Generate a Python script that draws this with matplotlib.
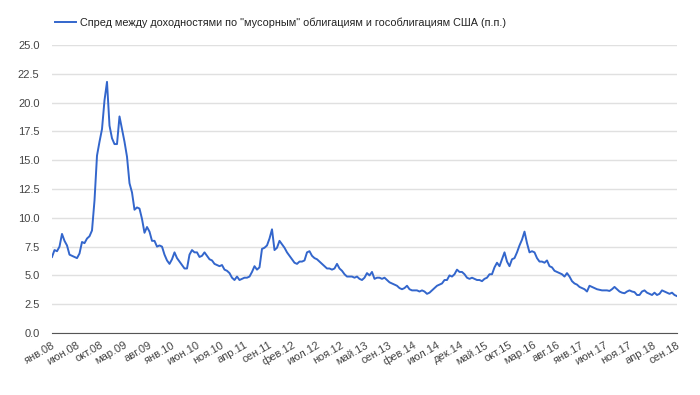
import numpy as np
import matplotlib
matplotlib.use("Agg")
import matplotlib.pyplot as plt

# spread, p.p. (roughly twice a month, Jan 2008 - Sep 2018)
spread = [
    6.6, 7.2, 7.1, 7.5, 8.6, 8.0, 7.6, 6.8, 6.7, 6.6,
    6.5, 6.9, 7.9, 7.8, 8.2, 8.4, 8.9, 11.5, 15.4, 16.6,
    17.7, 20.2, 21.8, 18.0, 16.9, 16.4, 16.4, 18.8, 17.7, 16.6,
    15.3, 13.0, 12.2, 10.7, 10.9, 10.8, 9.9, 8.7, 9.2, 8.8,
    8.0, 8.0, 7.5,
    7.6, 7.5, 6.8, 6.3, 6.0, 6.4, 7.0, 6.5, 6.2, 5.9,
    5.6, 5.6, 6.8, 7.2, 7.0, 7.0, 6.6, 6.7, 7.0, 6.7,
    6.4, 6.3, 6.0, 5.9, 5.8, 5.9, 5.5, 5.4, 5.2, 4.8,
    4.6, 4.9, 4.6, 4.7, 4.8, 4.8, 4.9, 5.3, 5.8, 5.5,
    5.7, 7.3,
    7.4, 7.6, 8.2, 9.0, 7.2, 7.4, 8.0, 7.7, 7.4, 7.0,
    6.7, 6.4, 6.1, 6.0, 6.2, 6.2, 6.3, 7.0, 7.1, 6.7,
    6.5, 6.4, 6.2, 6.0, 5.8, 5.6, 5.6, 5.5, 5.6, 6.0,
    5.6, 5.4, 5.1, 4.9, 4.9, 4.9, 4.8, 4.9, 4.7, 4.6,
    4.8, 5.2,
    5.0, 5.3, 4.7, 4.8, 4.8, 4.7, 4.8, 4.6, 4.4, 4.3,
    4.2, 4.1, 3.9, 3.8, 3.9, 4.1, 3.8, 3.7, 3.7, 3.7,
    3.6, 3.7, 3.6, 3.4, 3.5, 3.7, 3.9, 4.1, 4.2, 4.3,
    4.6, 4.6, 5.0, 4.9, 5.1, 5.5, 5.3, 5.3, 5.1, 4.8,
    4.7, 4.8,
    4.7, 4.6, 4.6, 4.5, 4.7, 4.8, 5.1, 5.1, 5.7, 6.1,
    5.8, 6.4, 7.0, 6.2, 5.8, 6.4, 6.5, 7.0, 7.6, 8.1,
    8.8, 7.8, 7.0, 7.1, 7.0, 6.5, 6.2, 6.2, 6.1, 6.3,
    5.8, 5.7, 5.4, 5.3, 5.2, 5.1, 4.9, 5.2, 4.9, 4.5,
    4.3, 4.2,
    4.0, 3.9, 3.8, 3.6, 4.1, 4.0, 3.9, 3.8, 3.75, 3.7,
    3.7, 3.7, 3.65, 3.8, 4.0, 3.8, 3.6, 3.5, 3.45, 3.6,
    3.7, 3.6, 3.55, 3.3, 3.3, 3.6, 3.7, 3.5, 3.4, 3.3,
    3.5, 3.3, 3.4, 3.7, 3.6, 3.5, 3.4, 3.5, 3.3, 3.2,
]

tick_labels = [
    "янв.08", "июн.08", "окт.08", "мар.09", "авг.09", "янв.10", "июн.10",
    "ноя.10", "апр.11", "сен.11", "фев.12", "июл.12", "ноя.12", "май.13",
    "сен.13", "фев.14", "июл.14", "дек.14", "май.15", "окт.15", "мар.16",
    "авг.16", "янв.17", "июн.17", "ноя.17", "апр.18", "сен.18",
]

series_name = 'Спред между доходностями по "мусорным" облигациям и гособлигациям США (п.п.)'

plt.rcParams['font.family'] = ['Liberation Sans', 'DejaVu Sans']

fig = plt.figure(figsize=(7, 3.95), dpi=100)
ax = fig.add_axes([52 / 700, 1 - 333 / 395, 625 / 700, 288 / 395])

x = np.arange(len(spread))
ax.plot(x, spread, color='#3366cc', lw=1.4, label=series_name)

ax.set_xlim(0, len(spread) - 1)
ax.set_ylim(0, 25)
ax.set_yticks(np.arange(0, 25.1, 2.5))
ax.set_yticklabels([f"{v:.1f}" for v in np.arange(0, 25.1, 2.5)])
ax.set_xticks(np.linspace(0, len(spread) - 1, len(tick_labels)))
ax.set_xticklabels(tick_labels, rotation=30, ha='right', rotation_mode='anchor')

ax.grid(axis='y', color='#e0e0e0', lw=1)
ax.set_axisbelow(True)
for s in ['top', 'right', 'left']:
    ax.spines[s].set_visible(False)
ax.spines['bottom'].set_color('#555555')
ax.tick_params(axis='both', length=0, labelsize=8, colors='#444444')
ax.tick_params(axis='x', pad=5)
ax.tick_params(axis='y', pad=9)

leg = ax.legend(loc='lower left', bbox_to_anchor=(-0.002, 1.045), frameon=False,
                fontsize=7.8, handlelength=1.9, handletextpad=0.4, borderaxespad=0)
for t in leg.get_texts():
    t.set_color('#222222')

fig.savefig('out.png', dpi=100)
